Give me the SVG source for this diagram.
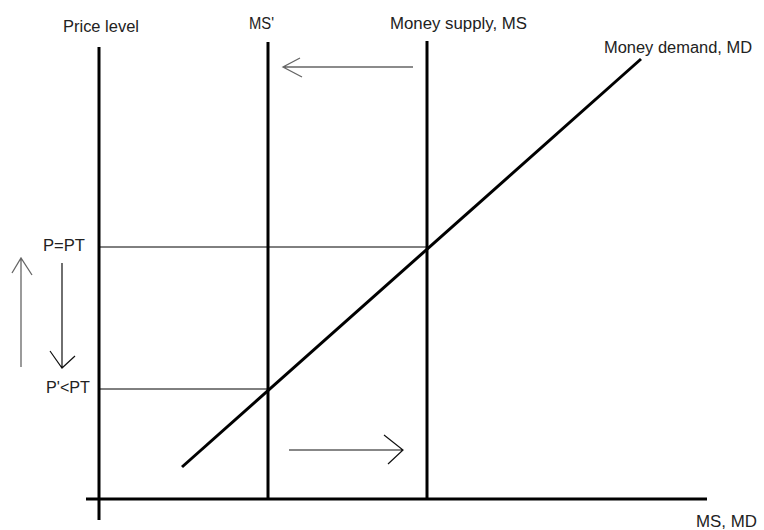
<svg xmlns="http://www.w3.org/2000/svg" width="764" height="530" viewBox="0 0 764 530">
<style>
.lbl{font-family:"Liberation Sans",Arial,sans-serif;font-size:16px;fill:#222}
.thick{stroke:#000;stroke-width:3;fill:none;stroke-linecap:butt}
.thin{stroke:#000;stroke-width:1;fill:none}
.grey{stroke:#666;stroke-width:1.3;fill:none}
.blk{stroke:#111;stroke-width:1.2;fill:none}
</style>
<rect width="764" height="530" fill="#fff"/>
<g id="axes">
<line class="thick" x1="99" y1="47" x2="99" y2="520"/>
<line class="thick" x1="86" y1="499" x2="707" y2="499"/>
<text class="lbl" x="63" y="32" textLength="76" lengthAdjust="spacingAndGlyphs">Price level</text>
<text class="lbl" x="696" y="527" textLength="61" lengthAdjust="spacingAndGlyphs">MS, MD</text>
</g>
<g id="ms-prime">
<line class="thick" x1="268" y1="42" x2="268" y2="500"/>
<text class="lbl" x="249" y="29" textLength="25" lengthAdjust="spacingAndGlyphs">MS'</text>
</g>
<g id="ms">
<line class="thick" x1="427" y1="41" x2="427" y2="500"/>
<text class="lbl" x="390" y="29" textLength="137" lengthAdjust="spacingAndGlyphs">Money supply, MS</text>
</g>
<g id="md">
<line class="thick" x1="182" y1="467" x2="641" y2="59"/>
<text class="lbl" x="604" y="53" textLength="148" lengthAdjust="spacingAndGlyphs">Money demand, MD</text>
</g>
<g id="levels">
<line class="thin" x1="99" y1="247" x2="427" y2="247"/>
<line class="thin" x1="99" y1="389" x2="268" y2="389"/>
<text class="lbl" x="43" y="251" textLength="42" lengthAdjust="spacingAndGlyphs">P=PT</text>
<text class="lbl" x="46" y="393" textLength="44" lengthAdjust="spacingAndGlyphs">P'&lt;PT</text>
</g>
<g id="connectors">
<path class="grey" d="M413 67H283M300 58L283 67L302 77"/>
<path class="blk" d="M289 450H403M384 435L403 450L388 464"/>
<path class="grey" d="M21 367V258M12 273L21 258L32 275"/>
<path class="blk" d="M62 263V368M50 351L62 368L75 356"/>
</g>
</svg>
